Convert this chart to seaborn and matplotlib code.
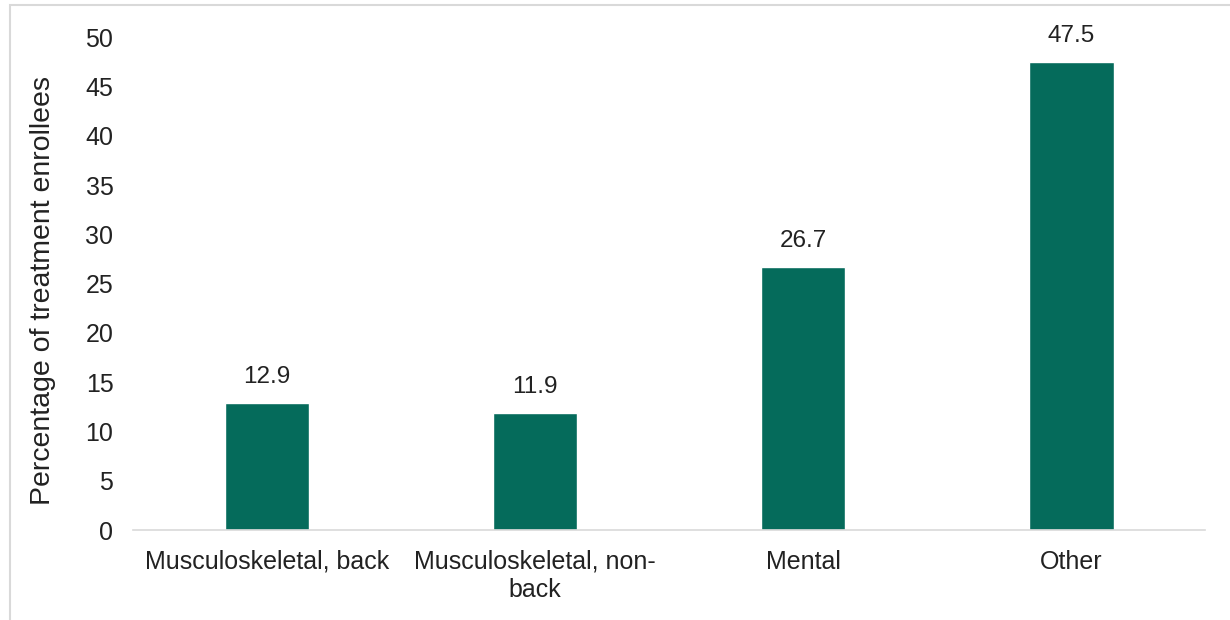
import pandas as pd
import matplotlib
matplotlib.use('Agg')
import matplotlib.pyplot as plt
from matplotlib.patches import Rectangle
import seaborn as sns

categorias = ['Musculoskeletal, back', 'Musculoskeletal, non-\nback', 'Mental', 'Other']
valores = [12.9, 11.9, 26.7, 47.5]

df = pd.DataFrame({'categoria': categorias, 'valor': valores})

sns.set_style('white')
plt.rcParams['font.family'] = ['Liberation Sans', 'DejaVu Sans']

fig = plt.figure(figsize=(12.3, 6.2), dpi=100)
ax = fig.add_axes([0.108, 0.145, 0.872, 0.795])

sns.barplot(data=df, x='categoria', y='valor', color='#056B5B', width=0.315,
            saturation=1, ax=ax)

for container in ax.containers:
    ax.bar_label(container, labels=[f"{v:.1f}" for v in container.datavalues],
                 padding=11, fontsize=17.5, color='#222222')

ax.set_ylim(0, 50)
ax.set_yticks(range(0, 51, 5))
ax.set_xlim(-0.5, 3.5)
ax.set_xlabel('')
ax.set_ylabel('Percentage of treatment enrollees', fontsize=20.5, color='#222222')
ax.yaxis.set_label_coords(-0.072, 0.487)
ax.tick_params(axis='both', labelsize=18, colors='#222222', length=0)
ax.tick_params(axis='y', pad=14)
ax.tick_params(axis='x', pad=14)
for lbl in ax.get_xticklabels():
    lbl.set_linespacing(1.25)

for s in ['top', 'right', 'left']:
    ax.spines[s].set_visible(False)
ax.spines['bottom'].set_color('#d9d9d9')
ax.spines['bottom'].set_linewidth(1.2)

# moldura cinza da figura
fig.patches.append(Rectangle((10 / 1230, -0.01), 1.02, 1 - 5 / 620 + 0.01,
                             transform=fig.transFigure, fill=False,
                             edgecolor='#d9d9d9', linewidth=1.5))

fig.savefig('out.png', dpi=100)
